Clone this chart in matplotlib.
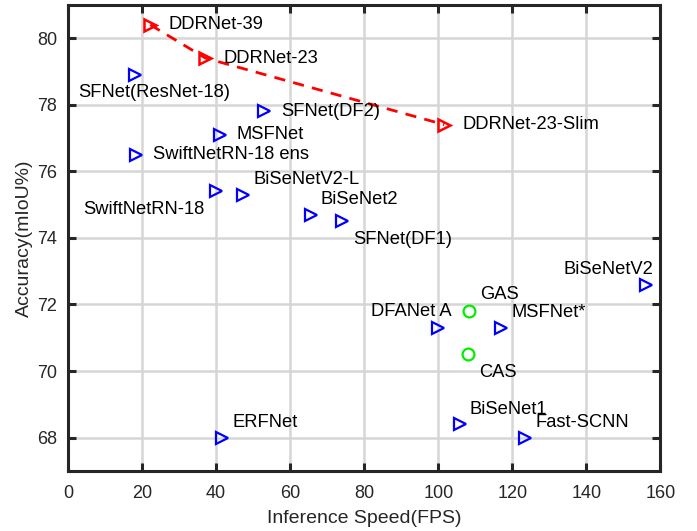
import numpy as np
import matplotlib.pyplot as plt

plt.rcParams['font.family'] = ['Liberation Sans', 'DejaVu Sans']

# DDRNet family (red, connected)
ddr_names = ["DDRNet-39", "DDRNet-23", "DDRNet-23-Slim"]
ddr_fps = [22.2, 37.1, 101.6]
ddr_acc = [80.4, 79.4, 77.4]

# other methods (blue triangles)
names = ["SFNet(ResNet-18)", "SFNet(DF2)", "MSFNet", "SwiftNetRN-18 ens",
         "SwiftNetRN-18", "BiSeNetV2-L", "BiSeNet2", "SFNet(DF1)",
         "BiSeNetV2", "DFANet A", "MSFNet*", "BiSeNet1", "Fast-SCNN", "ERFNet"]
fps = [18.0, 53.0, 41.0, 18.4, 39.9, 47.3, 65.5, 74.0,
       156.0, 100.0, 117.0, 105.8, 123.5, 41.7]
acc = [78.9, 77.8, 77.1, 76.5, 75.4, 75.3, 74.7, 74.5,
       72.6, 71.3, 71.3, 68.4, 68.0, 68.0]

# GAS / CAS (green circles)
g_names = ["GAS", "CAS"]
g_fps = [108.4, 108.0]
g_acc = [71.8, 70.5]

# label offsets in pixels (dx, dy, ha)
ddr_off = [(18, 0, 'left'), (18, 0, 'left'), (18, 0, 'left')]
off = [(-56, -18, 'left'), (17, 0, 'left'), (17, 0, 'left'), (17, 0, 'left'),
       (-11, -18, 'right'), (10, 15, 'left'), (10, 15, 'left'), (11, -18, 'left'),
       (8, 15, 'right'), (13, 16, 'right'), (10, 15, 'left'), (10, 15, 'left'),
       (10, 15, 'left'), (10, 15, 'left')]
g_off = [(11, 17, 'left'), (11, -18, 'left')]

fig = plt.figure(figsize=(6.97, 5.31), dpi=100)
ax = fig.add_axes([0.0976, 0.113, 0.85, 0.878])

ax.plot(ddr_fps, ddr_acc, 'r--', lw=2, dashes=(4, 3), zorder=3)
ax.plot(ddr_fps, ddr_acc, 'r>', ms=9, mfc='none', mew=1.8, ls='none', zorder=4)
ax.plot(fps, acc, '>', color='#0000ff', ms=9, mfc='none', mew=1.6, ls='none', zorder=4)
ax.plot(g_fps, g_acc, 'o', color='#00ee00', ms=8.5, mfc='none', mew=1.6, ls='none', zorder=4)

for lst_n, lst_x, lst_y, lst_o in [(ddr_names, ddr_fps, ddr_acc, ddr_off),
                                    (names, fps, acc, off),
                                    (g_names, g_fps, g_acc, g_off)]:
    for n, x, y, (dx, dy, ha) in zip(lst_n, lst_x, lst_y, lst_o):
        ax.annotate(n, (x, y), xytext=(dx, dy), textcoords='offset pixels',
                    ha=ha, va='center', fontsize=13.2, color='black')

ax.set_xlim(0, 160)
ax.set_ylim(67, 81)
ax.set_xticks(np.arange(0, 161, 20))
ax.set_yticks(np.arange(68, 81, 2))
ax.grid(True, color='#d6d6d6', lw=1.8)
ax.set_axisbelow(True)
for s in ax.spines.values():
    s.set_linewidth(2.2)
    s.set_color('#262626')
ax.tick_params(direction='in', length=6, width=2.2, top=True, right=True,
               labelsize=13, colors='#262626', pad=8)
ax.tick_params(axis='x', pad=10)
ax.set_xlabel("Inference Speed(FPS)", fontsize=14, color='#262626', labelpad=6)
ax.set_ylabel("Accuracy(mIoU%)", fontsize=14, color='#262626', labelpad=3)

fig.savefig("out.png", dpi=100)
